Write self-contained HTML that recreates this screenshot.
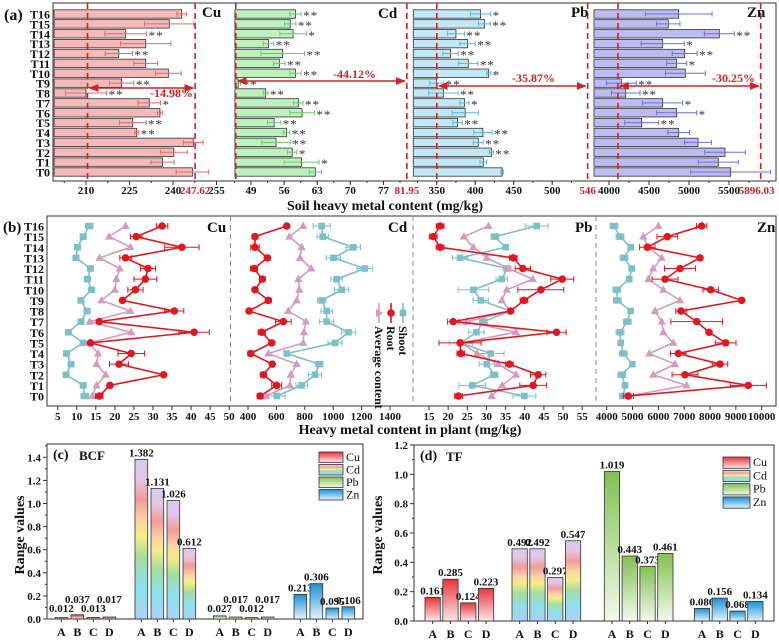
<!DOCTYPE html>
<html><head><meta charset="utf-8"><title>Soil and plant heavy metal content</title>
<style>
html,body{margin:0;padding:0;background:#fff;}
svg{display:block;font-family:"Liberation Serif","DejaVu Serif",serif;}
.tk{font-size:11px;font-weight:bold;fill:#111;}
.lb{font-weight:bold;fill:#111;}
</style></head>
<body>
<svg id="chart" xmlns="http://www.w3.org/2000/svg" width="779" height="642" viewBox="0 0 779 642">
<defs>
<linearGradient id="gCu" x1="0" y1="0" x2="0" y2="1"><stop offset="0" stop-color="#e8343c"/><stop offset="1" stop-color="#fde6e6"/></linearGradient>
<linearGradient id="gCd" x1="0" y1="0" x2="0" y2="1"><stop offset="0" stop-color="#d9cbee"/><stop offset="0.12" stop-color="#e3c6e6"/><stop offset="0.25" stop-color="#f29a9a"/><stop offset="0.38" stop-color="#fbd3a8"/><stop offset="0.48" stop-color="#f6ee86"/><stop offset="0.62" stop-color="#a4dca2"/><stop offset="0.8" stop-color="#8ee0ee"/><stop offset="1" stop-color="#a9d2f6"/></linearGradient>
<linearGradient id="gPb" x1="0" y1="0" x2="0" y2="1"><stop offset="0" stop-color="#82c052"/><stop offset="1" stop-color="#f2f9ea"/></linearGradient>
<linearGradient id="gZn" x1="0" y1="0" x2="0" y2="1"><stop offset="0" stop-color="#1a90d6"/><stop offset="1" stop-color="#e2f4fb"/></linearGradient>
<marker id="arr" viewBox="0 0 10 10" refX="9" refY="5" markerWidth="7" markerHeight="7" orient="auto-start-reverse"><path d="M0,1 L10,5 L0,9 z" fill="#d42020"/></marker>
</defs>
</svg>
<script>
// ===== Panel (a) data: soil heavy metal content, T0..T16 =====
const rowLabels = ['T0','T1','T2','T3','T4','T5','T6','T7','T8','T9','T10','T11','T12','T13','T14','T15','T16'];
const cuSoil = [246.7,236.4,240.3,247.0,227.5,226.1,235.5,231.8,210.0,222.3,238.4,230.6,221.3,230.6,223.7,238.7,243.0];
const cuErr = [5.6,4,4.6,3.4,0.7,4.6,0.8,3.9,7.1,4.2,4.4,4.1,4.7,8.7,7.2,8.5,1.7];
const cuSig = ['','','','','**','**','','*','**','**','','','**','','**','',''];
const cdSoil = [62.6,59.7,57.7,54.3,56.5,53.9,59.8,59.0,52.1,46.3,58.4,55.0,55.7,52.7,57.9,57.3,58.4];
const cdErr = [1.3,3.7,1,3,0.7,1.4,2.6,1,0.5,0.5,1.2,1.2,4.6,1.1,2.8,1.2,1.2];
const cdSig = ['','*','*','**','**','**','**','**','**','**','**','**','**','**','*','**','**'];
const pbSoil = [435,410.5,421,404,410,377,387,386,358.6,350,417.5,391,368,390,375,412,407];
const pbErr = [1.5,4.3,2.6,6.5,12,6,17,6,19,9,2.6,12.5,10,10,11,7.6,13];
const pbSig = ['','','**','**','**','**','','*','**','**','*','**','**','**','**','**','*'];
const znSoil = [5521,5366,5450,5113,4871,4409,4846,4671,4209,4154,4954,4846,4946,4671,5379,4741,4871];
const znErr = [500,250,254,167,135,212,250,250,178,187,250,125,156,270,187,146,417];
const znSig = ['','','','','','**','*','*','**','**','','*','**','*','**','',''];
const cuTicks = [210,225,240,255];
const cdTicks = [49,56,63,70,77];
const pbTicks = [350,400,450,500];
const znTicks = [4000,4500,5000,5500];
const refHigh = [247.62,81.95,546,5896.03];
const refHighLabels = ['247.62','81.95','546','5896.03'];
const refPct = [14.98,44.12,35.87,30.25];

// ===== Panel (b) data: plant content, T0..T16 =====
const cuShoot = [12.1,11.7,7.2,8.5,7.3,11.7,7.8,11.1,12.7,11.1,13.9,12.8,13.6,9.8,10.2,11.7,13.3];
const cuAvg = [14.1,15.2,17.6,15.2,15.6,13.3,24.3,13.4,24.1,16.5,20.0,20.4,21.3,16.0,24.1,18.5,22.8];
const cuRoot = [15.9,18.7,32.8,21.1,24.3,13.6,40.8,15.9,35.6,22.0,25.4,28.0,28.7,22.8,37.6,25.6,32.4];
const cuRootErr = [1,0.5,0.5,2.5,3.5,0.5,4,0.5,2.5,0.5,2,3,2,1.5,4.5,1.5,1.5];
const cuShootErr = [1,0.8,0.8,0.8,0.8,0.8,0.8,0.8,0.8,0.8,0.8,0.8,0.8,0.8,0.8,0.8,1];
const cdRoot = [485,602,508,571,419,567,497,649,407,543,449,501,442,536,449,449,673];
const cdAvg = [527,696,701,743,543,789,794,808,683,743,761,755,844,766,778,691,789];
const cdShoot = [602,778,872,902,673,1013,1108,954,954,919,1060,1024,1223,1001,1142,926,919];
const cdRootErr = [20,35,20,15,20,15,25,55,15,20,15,20,25,20,30,20,10];
const cdShootErr = [60,40,45,25,10,50,50,50,40,30,50,40,55,50,50,40,60];
const pbRoot = [22.7,42.2,43.5,36.0,23.3,23.1,48.3,21.3,36.3,39.8,44.2,49.8,39.5,37.0,17.9,16.1,17.9];
const pbAvg = [31.4,34.1,37.7,33.1,27.6,23.5,37.7,24.8,36.3,34.0,35.3,42.1,35.7,30.1,26.6,24.1,30.5];
const pbShoot = [39.9,26.3,32.0,30.1,31.1,23.3,27.4,29.2,36.3,28.5,26.6,34.0,35.4,23.1,35.0,32.2,43.1];
const pbRootErr = [1,3.5,2,1,1,5.5,2.5,1.5,0.5,1,6,3,2,1,1,1,1];
const pbShootErr = [3,3.5,1,2,3.5,3,2,1,0.5,2,4,1.5,1,2,0.5,1,3];
const znRoot = [4837,9481,7031,8386,6772,8606,7960,7484,6876,9226,8026,6257,6838,7612,5572,6346,7677];
const znAvg = [4837,7097,5804,6644,5650,6580,6193,6128,5870,6838,6193,5611,5804,6128,5611,5417,5999];
const znShoot = [4644,4708,4581,4993,4644,4542,4515,4799,4929,4413,4387,4876,4968,4670,4929,4515,4283];
const znRootErr = [200,700,500,300,300,400,0,1000,200,0,300,500,600,0,300,400,200];
const znShootErr = [150,100,150,100,150,100,150,150,100,150,150,100,100,150,100,150,150];
const cuPlantTicks = [5,10,15,20,25,30,35,40,45,50];
const cdPlantTicks = [400,600,800,1000,1200,1400];
const pbPlantTicks = [15,20,25,30,35,40,45,50,55];
const znPlantTicks = [4000,5000,6000,7000,8000,9000,10000];

// ===== Panels (c) and (d) =====
const groups = ['A','B','C','D'];
const metals = ['Cu','Cd','Pb','Zn'];
const bcfCu = [0.012,0.037,0.013,0.017];
const bcfCd = [1.382,1.131,1.026,0.612];
const bcfPb = [0.027,0.017,0.012,0.017];
const bcfZn = [0.213,0.306,0.095,0.106];
const tfCu = [0.161,0.285,0.124,0.223];
const tfCd = [0.492,0.492,0.297,0.547];
const tfPb = [1.019,0.443,0.373,0.461];
const tfZn = [0.086,0.156,0.068,0.134];
const bcfTicks = [0,0.2,0.4,0.6,0.8,1.0,1.2,1.4];
const tfTicks = [0,0.2,0.4,0.6,0.8,1.0,1.2];

const NS='http://www.w3.org/2000/svg';
const svg=document.getElementById('chart');
function mk(tag,attrs,parent){const e=document.createElementNS(NS,tag);for(const k in attrs)e.setAttribute(k,attrs[k]);(parent||svg).appendChild(e);return e;}
function tx(s,attrs,parent){const e=mk('text',attrs,parent);e.textContent=s;return e;}

// ================= PANEL A =================
const yA=i=>172-i*9.875;
const xCu=v=>86+(v-210)*2.9;
const xCd=v=>251+(v-49)*4.73;
const xPb=v=>436.7+(v-350)*0.77;
const xZn=v=>609+(v-4000)*0.08;
const gA=mk('g',{});


let fr=mk('rect',{x:53,y:3,width:723,height:178,fill:'none',stroke:'#333','stroke-width':1},gA);


let pl=tx('(a)',{x:4,y:20,class:'lb','font-size':16},gA);


rowLabels.forEach((r,i)=>{
  const t=tx(r,{x:50,y:yA(i)+4.5,class:'lb','font-size':12,'text-anchor':'end'},gA);
  
  
});
const segDefs=[
 {m:'cu',vals:cuSoil,err:cuErr,sig:cuSig,xf:xCu,base:199,fill:'#f6b9b9',ec:'#e56a6a',ticks:cuTicks,minor:7.5,x0:53,x1:229,ay:88,lx:150,ly:97,name:'Cu',nx:202,ny:17},
 {m:'cd',vals:cdSoil,err:cdErr,sig:cdSig,xf:xCd,base:45.6,fill:'#bdf2be',ec:'#63d063',ticks:cdTicks,minor:3.5,x0:231,x1:412,ay:81,lx:333,ly:78,name:'Cd',nx:378,ny:18},
 {m:'pb',vals:pbSoil,err:pbErr,sig:pbSig,xf:xPb,base:319.6,fill:'#c2e8f8',ec:'#5ab6e0',ticks:pbTicks,minor:25,x0:413,x1:592,ay:86,lx:512,ly:82,name:'Pb',nx:571,ny:17},
 {m:'zn',vals:znSoil,err:znErr,sig:znSig,xf:xZn,base:3812,fill:'#bcbcf2',ec:'#6f6fe0',ticks:znTicks,minor:250,x0:594,x1:776,ay:86,lx:712,ly:82,name:'Zn',nx:747,ny:17}
];
segDefs.forEach((s,k)=>{
  const g=mk('g',{},gA);
  
  
  s.vals.forEach((v,i)=>{
    const y=yA(i), xb=s.xf(s.base), xe=s.xf(v);
    const b=mk('rect',{x:xb,y:y-4.2,width:Math.max(0,xe-xb),height:8.4,fill:s.fill,stroke:'#333','stroke-width':0.8},g);
    
    
    const el=s.xf(v-s.err[i]), er=s.xf(v+s.err[i]);
    const e=mk('path',{d:`M${el},${y}H${er}M${el},${y-2.5}V${y+2.5}M${er},${y-2.5}V${y+2.5}`,stroke:s.ec,'stroke-width':1,fill:'none'},g);
    
    
    if(s.sig[i]){
      const st=tx(s.sig[i],{x:Math.max(er,xe)+2,y:y+6,'font-size':13,fill:'#333','letter-spacing':'1'},g);
      
      
    }
  });
  // ticks
  s.ticks.forEach(t=>{
    const x=s.xf(t);
    const tm=mk('line',{x1:x,x2:x,y1:181,y2:185,stroke:'#333'},g);
    
    
    const tl=tx(String(t),{x:x,y:194,class:'tk','text-anchor':'middle'},g);
    
    
  });
  for(let t=s.ticks[0]-s.minor*4;t<s.ticks[s.ticks.length-1]+s.minor*4;t+=s.minor){
    const x=s.xf(t); if(x<s.x0+2||x>s.x1-2) continue;
    const mt=mk('line',{x1:x,x2:x,y1:181,y2:183,stroke:'#333'},g);
    
    
  }
  const hi=refHigh[k], lo=hi*(1-refPct[k]/100);
  const xh=s.xf(hi), xl=s.xf(lo);
  [xh,xl].forEach((x,j)=>{
    const d=mk('line',{x1:x,x2:x,y1:3,y2:181,stroke:'#d42020','stroke-width':1.6,'stroke-dasharray':'6,4'},g);
    
    
  });
  const rl=tx(refHighLabels[k],{x:xh+(k==3?-4:0),y:194,class:'tk','text-anchor':'middle',fill:'#d42020',style:'fill:#d42020'},g);
  
  
  const ar=mk('line',{x1:xl+2,x2:xh-2,y1:s.ay,y2:s.ay,stroke:'#d42020','stroke-width':1.4,'marker-start':'url(#arr)','marker-end':'url(#arr)'},g);
  
  
  const pt=tx('-'+refPct[k].toFixed(2)+'%',{x:s.lx,y:s.ly,'font-size':12,'font-weight':'bold',fill:'#d42020'},g);
  
  
  const nm=tx(s.name,{x:s.nx,y:s.ny,class:'lb','font-size':15},g);
  
  
});
let at=tx('Soil heavy metal content (mg/kg)',{x:385,y:210,class:'lb','font-size':14,'text-anchor':'middle'},gA);



// ================= PANEL B =================
const yB=i=>396-i*10.625;
const xbCu=v=>57.7+(v-5)*3.81;
const xbCd=v=>248+(v-400)*0.142;
const xbPb=v=>429+(v-15)*3.83;
const xbZn=v=>606.7+(v-4000)*0.02583;
const gB=mk('g',{});


fr=mk('rect',{x:47,y:216,width:729,height:190,fill:'none',stroke:'#333','stroke-width':1},gB);


pl=tx('(b)',{x:3,y:232,class:'lb','font-size':15},gB);


rowLabels.forEach((r,i)=>{
  const t=tx(r,{x:44,y:yB(i)+4.5,class:'lb','font-size':12,'text-anchor':'end'},gB);
  
  
});
[230.5,413,596].forEach(x=>{
  const l=mk('line',{x1:x,x2:x,y1:216,y2:406,stroke:'#888','stroke-width':1,'stroke-dasharray':'5,4'},gB);
  
  
});
const pDefs=[
 {m:'cu',xf:xbCu,shoot:cuShoot,avg:cuAvg,root:cuRoot,re:cuRootErr,se:cuShootErr,ticks:cuPlantTicks,name:'Cu',nx:207,sk:0},
 {m:'cd',xf:xbCd,shoot:cdShoot,avg:cdAvg,root:cdRoot,re:cdRootErr,se:cdShootErr,ticks:cdPlantTicks,name:'Cd',nx:388,sk:1},
 {m:'pb',xf:xbPb,shoot:pbShoot,avg:pbAvg,root:pbRoot,re:pbRootErr,se:pbShootErr,ticks:pbPlantTicks,name:'Pb',nx:575,sk:0},
 {m:'zn',xf:xbZn,shoot:znShoot,avg:znAvg,root:znRoot,re:znRootErr,se:znShootErr,ticks:znPlantTicks,name:'Zn',nx:757,sk:0}
];
const cShoot='#7cc0c9', cRoot='#e3161d', cAvg='#d59bbf';
function errLine(g,xf,v,e,y,col,nm){
  if(!e) return;
  const a=xf(v-e), b=xf(v+e);
  const p=mk('path',{d:`M${a},${y}H${b}M${a},${y-3}V${y+3}M${b},${y-3}V${y+3}`,stroke:col,'stroke-width':1,fill:'none'},g);
  
  
}
pDefs.forEach(s=>{
  const g=mk('g',{},gB);
  
  
  const series=[['shoot',s.shoot,cShoot,s.se],['average',s.avg,cAvg,null],['root',s.root,cRoot,s.re]];
  series.forEach(([nm,arr,col,err])=>{
    const sg=mk('g',{},g);
    
    
    if(err) arr.forEach((v,i)=>errLine(sg,s.xf,v,err[i],yB(i),col,'plant-'+s.m+'-'+nm+'-error-t'+i));
    const pts=arr.map((v,i)=>s.xf(v)+','+yB(i)).join(' ');
    const ln=mk('polyline',{points:pts,fill:'none',stroke:col,'stroke-width':nm=='root'?1.6:1.6},sg);
    
    
    arr.forEach((v,i)=>{
      const x=s.xf(v), y=yB(i);
      let mkEl;
      if(nm=='shoot') mkEl=mk('rect',{x:x-3.3,y:y-3.3,width:6.6,height:6.6,fill:col},sg);
      else if(nm=='root') mkEl=mk('circle',{cx:x,cy:y,r:3.8,fill:col},sg);
      else mkEl=mk('path',{d:`M${x},${y-4.5}L${x+4.2},${y+3}L${x-4.2},${y+3}Z`,fill:col},sg);
      
      
    });
  });
  s.ticks.forEach(t=>{
    const x=s.xf(t);
    const tm=mk('line',{x1:x,x2:x,y1:406,y2:410,stroke:'#333'},g);
    
    
    const tl=tx(String(t),{x:x,y:420,class:'tk','text-anchor':'middle','font-size':10.5},g);
    
    
  });
  const nmT=tx(s.name,{x:s.nx,y:232,class:'lb','font-size':15},g);
  
  
});
// legend (rotated)
const lg=mk('g',{},gB);


[['Shoot',403,cShoot,'s'],['Root',391,cRoot,'c'],['Average content',379,cAvg,'t']].forEach(([lab,x,col,sh])=>{
  const it=mk('g',{},lg);
  
  
  mk('line',{x1:x,x2:x,y1:303,y2:323,stroke:col,'stroke-width':1.6},it);
  if(sh=='s') mk('rect',{x:x-3.3,y:309.7,width:6.6,height:6.6,fill:col},it);
  else if(sh=='c') mk('circle',{cx:x,cy:313,r:3.8,fill:col},it);
  else mk('path',{d:`M${x+4.5},313L${x-3},${317.2}L${x-3},${308.8}Z`,fill:col},it);
  tx(lab,{x:0,y:0,class:'lb','font-size':12,'dominant-baseline':'central',transform:`translate(${x},326) rotate(90)`},it);
});
at=tx('Heavy metal content in plant (mg/kg)',{x:410,y:434,class:'lb','font-size':14,'text-anchor':'middle'},gB);



// ================= PANELS C & D =================
const fills=['url(#gCu)','url(#gCd)','url(#gPb)','url(#gZn)'];
function barPanel(cfg){
  const g=mk('g',{});
  
  
  const y=v=>cfg.y0-v*cfg.k;
  const f=mk('rect',{x:cfg.x0,y:cfg.top,width:cfg.x1-cfg.x0,height:cfg.y0-cfg.top,fill:'none',stroke:'#333'},g);
  
  
  cfg.ticks.forEach(t=>{
    const tm=mk('line',{x1:cfg.x0-4,x2:cfg.x0,y1:y(t),y2:y(t),stroke:'#333'},g);
    
    
    const tl=tx(t.toFixed(1),{x:cfg.x0-6,y:y(t)+4,class:'tk','text-anchor':'end','font-size':12},g);
    
    
    const m=mk('line',{x1:cfg.x0-2,x2:cfg.x0,y1:y(t+0.1),y2:y(t+0.1),stroke:'#333'},g);
    
    
  });
  const yl=tx('Range values',{x:0,y:0,class:'lb','font-size':14,'text-anchor':'middle',transform:`translate(${cfg.ylx},535) rotate(-90)`},g);
  
  
  const pl=tx(cfg.label,{x:cfg.x0+6,y:cfg.top+15,class:'lb','font-size':14},g);
  
  
  const tt=tx(cfg.title,{x:cfg.x0+32,y:cfg.top+16,class:'lb','font-size':13},g);
  
  
  cfg.series.forEach((vals,m)=>{
    vals.forEach((v,j)=>{
      const x=cfg.gx[m]+j*cfg.step;
      const b=mk('rect',{x:x,y:y(v),width:cfg.w,height:v*cfg.k,fill:fills[m],stroke:'#333','stroke-width':0.8},g);
      
      
      let ly=y(v)-3;
      if(v<0.05) ly=cfg.y0-7-(j%2)*9;
      const vl=tx(v.toFixed(3),{x:x+cfg.w/2,y:ly,class:'tk','text-anchor':'middle','font-size':10},g);
      
      
      const xl=tx(groups[j],{x:x+cfg.w/2,y:cfg.y0+17,class:'lb','font-size':12,'text-anchor':'middle'},g);
      
      
      const xt=mk('line',{x1:x+cfg.w/2,x2:x+cfg.w/2,y1:cfg.y0,y2:cfg.y0+3,stroke:'#333'},g);
      
      
    });
  });
  metals.forEach((mt,m)=>{
    const it=mk('g',{},g);
    
    
    mk('rect',{x:cfg.lx,y:cfg.ly+m*cfg.lstep,width:cfg.lw,height:cfg.lstep-2,fill:fills[m],stroke:'#333','stroke-width':0.8},it);
    tx(mt,{x:cfg.lx+cfg.lw+3,y:cfg.ly+m*cfg.lstep+9,'font-size':12,fill:'#111'},it);
  });
}
barPanel({id:'panel-c',x0:47,x1:363,top:444,y0:619,k:115.5,ticks:bcfTicks,ylx:24,label:'(c)',title:'BCF',
  series:[bcfCu,bcfCd,bcfPb,bcfZn],gx:[55,135,213.3,294],step:16,w:12.7,lx:319,ly:452,lw:24,lstep:12.5});
barPanel({id:'panel-d',x0:414,x1:774,top:445,y0:621,k:146.7,ticks:tfTicks,ylx:382,label:'(d)',title:'TF',
  series:[tfCu,tfCd,tfPb,tfZn],gx:[425,512,604.3,694.3],step:17.8,w:15.3,lx:723,ly:457,lw:27,lstep:13.3});
</script>
</body></html>
